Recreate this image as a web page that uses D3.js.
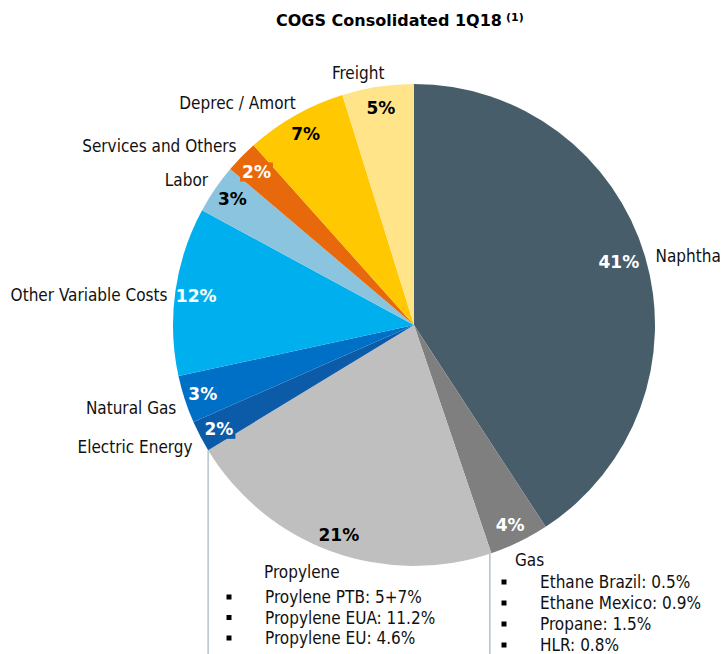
<!DOCTYPE html>
<html>
<head>
<meta charset="utf-8">
<script src="https://cdn.jsdelivr.net/npm/d3@7"></script>
<style>
  html, body { margin: 0; padding: 0; background: #ffffff; }
  svg { display: block; }
  .reg { font-family: "DejaVu Sans Condensed", "DejaVu Sans", sans-serif; font-stretch: condensed; }
  .bold { font-family: "DejaVu Sans", sans-serif; font-weight: bold; }
</style>
</head>
<body>
<svg id="chart" width="723" height="654"></svg>
<script>
// ---- data ----
const categories = ["Naphtha", "Gas", "Propylene", "Electric Energy", "Natural Gas",
                    "Other Variable Costs", "Labor", "Services and Others", "Deprec / Amort", "Freight"];
const values = [40.8, 4.0, 21.5, 2.1, 3.2, 11.3, 3.3, 2.2, 6.8, 4.8];
const pctLabels = ["41%", "4%", "21%", "2%", "3%", "12%", "3%", "2%", "7%", "5%"];
const colors = ["#475d69", "#7f7f7f", "#bfbfbf", "#0b5ba8", "#0070c6", "#00b0ee",
                "#8bc4de", "#e8690b", "#ffc800", "#ffe48a"];
const pctColors = ["#fff", "#fff", "#000", "#fff", "#fff", "#fff", "#000", "#fff", "#000", "#000"];
const boxedLabels = [false, false, false, true, false, false, false, true, false, false];
const title = "COGS Consolidated 1Q18";
const titleNote = "(1)";
const propyleneHeader = "Propylene";
const propyleneItems = ["Proylene PTB: 5+7%", "Propylene EUA: 11.2%", "Propylene EU: 4.6%"];
const gasHeader = "Gas";
const gasItems = ["Ethane Brazil: 0.5%", "Ethane Mexico: 0.9%", "Propane: 1.5%", "HLR: 0.8%"];

// ---- layout ----
const svg = d3.select("#chart");
const cx = 414, cy = 325, R = 241;
const g = svg.append("g").attr("transform", `translate(${cx},${cy})`);

const pie = d3.pie().sort(null).value(d => d)(values);
const arc = d3.arc().innerRadius(0).outerRadius(R);
const labelArc = d3.arc().innerRadius(220).outerRadius(220);
const outerArc = d3.arc().innerRadius(252).outerRadius(252);

// connector lines (behind pie)
const lineColor = "#a9b9c6";
const propStart = pie[2].endAngle;   // boundary propylene / electric
const gasStart = pie[1].endAngle;    // boundary gas / propylene
const pPt = [R * Math.sin(propStart), -R * Math.cos(propStart)];
const gPt = [R * Math.sin(gasStart), -R * Math.cos(gasStart)];
g.append("line").attr("x1", pPt[0]).attr("y1", pPt[1]).attr("x2", pPt[0]).attr("y2", 654 - cy)
  .attr("stroke", lineColor).attr("stroke-width", 1.3);
g.append("line").attr("x1", gPt[0] - 1.5).attr("y1", gPt[1]).attr("x2", gPt[0] - 1.5).attr("y2", 654 - cy)
  .attr("stroke", lineColor).attr("stroke-width", 1.3);

g.selectAll("path.slice").data(pie).enter().append("path")
  .attr("class", "slice")
  .attr("d", arc)
  .attr("fill", (d, i) => colors[i]);

// percentage labels
const pctNudge = [[-6, 0], [0, 2], [0, 3], [0, 2], [-2, 1], [0, 2], [0, -2], [0, 0], [0, 0], [0, 0]];
pie.forEach((d, i) => {
  const c = labelArc.centroid(d);
  const x = c[0] + pctNudge[i][0], y = c[1] + pctNudge[i][1];
  const t = g.append("text").attr("class", "bold")
    .attr("x", x).attr("y", y).attr("dy", "0.36em")
    .attr("text-anchor", "middle")
    .attr("font-size", 17)
    .attr("fill", pctColors[i])
    .text(pctLabels[i]);
  if (boxedLabels[i]) {
    const bb = t.node().getBBox();
    g.insert("rect", function() { return t.node(); })
      .attr("x", bb.x - 2).attr("y", bb.y + 1).attr("width", bb.width + 4).attr("height", bb.height - 1)
      .attr("fill", colors[i]);
  }
});

// outside category labels (not Gas / Propylene, which head the boxes below)
const outerNudge = {0: [0, 3], 3: [2, 5], 4: [2, 5], 5: [3, 5], 6: [2, -3], 7: [3, -3], 8: [6, -3], 9: [-18, -3]};
pie.forEach((d, i) => {
  if (i === 1 || i === 2) return;
  const a = (d.startAngle + d.endAngle) / 2;
  const c = outerArc.centroid(d);
  const s = Math.sin(a);
  const anchor = Math.abs(s) < 0.3 ? "middle" : (s > 0 ? "start" : "end");
  const n = outerNudge[i] || [0, 0];
  g.append("text").attr("class", "reg")
    .attr("x", c[0] + n[0]).attr("y", c[1] + n[1]).attr("dy", "0.36em")
    .attr("text-anchor", anchor)
    .attr("font-size", 17)
    .attr("fill", "#111")
    .text(categories[i]);
});

// title
const tt = svg.append("text").attr("class", "bold")
  .attr("x", 276).attr("y", 26)
  .attr("font-size", 16)
  .attr("fill", "#000");
tt.append("tspan").text(title);
tt.append("tspan").attr("dx", 4).attr("dy", -5).attr("font-size", 11).text(titleNote);

// detail boxes
function box(header, items, hx, hy, bx, tx, y0, step) {
  svg.append("text").attr("class", "reg").attr("x", hx).attr("y", hy).attr("dy", "0.36em")
    .attr("font-size", 17).attr("fill", "#111").text(header);
  items.forEach((s, i) => {
    const y = y0 + i * step;
    svg.append("rect").attr("x", bx - 2.5).attr("y", y - 2.5).attr("width", 5).attr("height", 5).attr("fill", "#000");
    svg.append("text").attr("class", "reg").attr("x", tx).attr("y", y).attr("dy", "0.36em")
      .attr("font-size", 17).attr("fill", "#111").text(s);
  });
}
box(propyleneHeader, propyleneItems, 264, 572, 229, 265, 597, 20.5);
box(gasHeader, gasItems, 515, 560, 504, 540, 582, 21);
</script>
</body>
</html>
